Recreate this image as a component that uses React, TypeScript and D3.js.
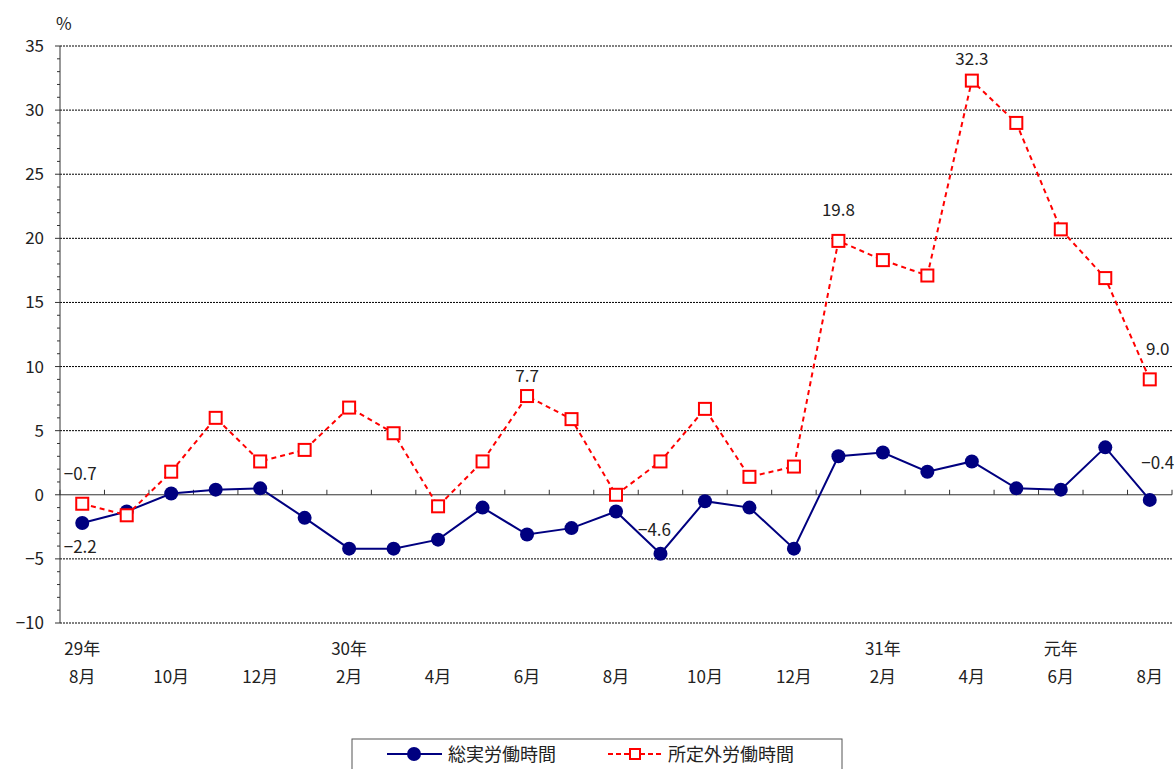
import React from "react";
import * as d3 from "d3";

const months = ["8月","9月","10月","11月","12月","1月","2月","3月","4月","5月","6月","7月","8月","9月","10月","11月","12月","1月","2月","3月","4月","5月","6月","7月","8月"];
const yearLabels: [number, string][] = [[0,"29年"],[6,"30年"],[18,"31年"],[22,"元年"]];
const total = [-2.2,-1.3,0.1,0.4,0.5,-1.8,-4.2,-4.2,-3.5,-1.0,-3.1,-2.6,-1.3,-4.6,-0.5,-1.0,-4.2,3.0,3.3,1.8,2.6,0.5,0.4,3.7,-0.4];
const overtime = [-0.7,-1.6,1.8,6.0,2.6,3.5,6.8,4.8,-0.9,2.6,7.7,5.9,0.0,2.6,6.7,1.4,2.2,19.8,18.3,17.1,32.3,29.0,20.7,16.9,9.0];
const yTicks = [-10,-5,0,5,10,15,20,25,30,35];
const font = "'Noto Sans CJK JP', sans-serif";

export default function App() {
  const W = 1174, H = 769;
  const x = d3.scaleBand<number>().domain(d3.range(25)).range([60, 1172]);
  const cx = (i: number) => x(i)! + x.bandwidth() / 2;
  const y = d3.scaleLinear().domain([-10, 35]).range([623, 46]);
  const line = d3.line<number>().x((_, i) => cx(i)).y(d => y(d));
  const fmt = (v: number) => (v < 0 ? "−" + Math.abs(v).toFixed(1) : v.toFixed(1));
  const labels: { i: number; v: number; s: "t" | "o"; dx: number; dy: number; anchor?: string }[] = [
    { i: 0, v: overtime[0], s: "o", dx: -2, dy: -24, anchor: "middle" },
    { i: 0, v: total[0], s: "t", dx: -2, dy: 30 },
    { i: 10, v: overtime[10], s: "o", dx: 0, dy: -14 },
    { i: 13, v: total[13], s: "t", dx: -6, dy: -18 },
    { i: 17, v: overtime[17], s: "o", dx: 0, dy: -25 },
    { i: 20, v: overtime[20], s: "o", dx: 0, dy: -16 },
    { i: 24, v: overtime[24], s: "o", dx: 8, dy: -24 },
    { i: 24, v: total[24], s: "t", dx: 8, dy: -31 },
  ];
  return (
    <svg width={W} height={H} style={{ display: "block", position: "absolute", left: 0, top: 0 }} fontFamily={font}>
      <rect width={W} height={H} fill="#fff" />
      {yTicks.map(t => (
        <g key={t}>
          {t !== 0 && <line x1={60} x2={1172} y1={y(t)} y2={y(t)} stroke="#000" strokeDasharray="2,1" strokeWidth={1} />}
          <text x={44} y={y(t) + 6} textAnchor="end" fontSize={17} fill="#222">{t < 0 ? "−" + Math.abs(t) : t}</text>
        </g>
      ))}
      {d3.range(-10, 36, 1).map(t => (
        <line key={"m" + t} x1={t % 5 === 0 ? 55 : 57} x2={60} y1={y(t)} y2={y(t)} stroke="#333" />
      ))}
      <line x1={60} x2={60} y1={y(35)} y2={y(-10)} stroke="#333" />
      <line x1={60} x2={1172} y1={y(0)} y2={y(0)} stroke="#333" />
      {d3.range(26).map(i => (
        <line key={"x" + i} x1={60 + i * x.step()} x2={60 + i * x.step()} y1={y(0) - 5} y2={y(0)} stroke="#333" />
      ))}
      <text x={56} y={30} fontSize={17} fill="#222">%</text>
      {months.map((m, i) => i % 2 === 0 && (
        <text key={"mo" + i} x={cx(i)} y={683} textAnchor="middle" fontSize={17} fill="#222">{m}</text>
      ))}
      {yearLabels.map(([i, s]) => (
        <text key={s} x={cx(i)} y={655} textAnchor="middle" fontSize={17} fill="#222">{s}</text>
      ))}
      <path d={line(total)!} fill="none" stroke="#000080" strokeWidth={2} />
      {total.map((v, i) => <circle key={"c" + i} cx={cx(i)} cy={y(v)} r={7} fill="#000080" />)}
      <path d={line(overtime)!} fill="none" stroke="#ff0000" strokeWidth={2} strokeDasharray="5,4" />
      {overtime.map((v, i) => <rect key={"r" + i} x={cx(i) - 6} y={y(v) - 6} width={12} height={12} fill="#fff" stroke="#ff0000" strokeWidth={2} />)}
      {labels.map((l, k) => (
        <text key={"l" + k} x={cx(l.i) + l.dx} y={y(l.v) + l.dy} textAnchor="middle" fontSize={17} fill="#222">{fmt(l.v)}</text>
      ))}
      <rect x={352} y={739} width={490} height={40} fill="#fff" stroke="#555" />
      <line x1={387} x2={442} y1={754} y2={754} stroke="#000080" strokeWidth={2} />
      <circle cx={414} cy={754} r={7} fill="#000080" />
      <text x={448} y={761} fontSize={18} fill="#222">総実労働時間</text>
      <line x1={608} x2={662} y1={754} y2={754} stroke="#ff0000" strokeWidth={2} strokeDasharray="5,3" />
      <rect x={630} y={749} width={10} height={10} fill="#fff" stroke="#ff0000" strokeWidth={2} />
      <text x={668} y={761} fontSize={18} fill="#222">所定外労働時間</text>
    </svg>
  );
}
